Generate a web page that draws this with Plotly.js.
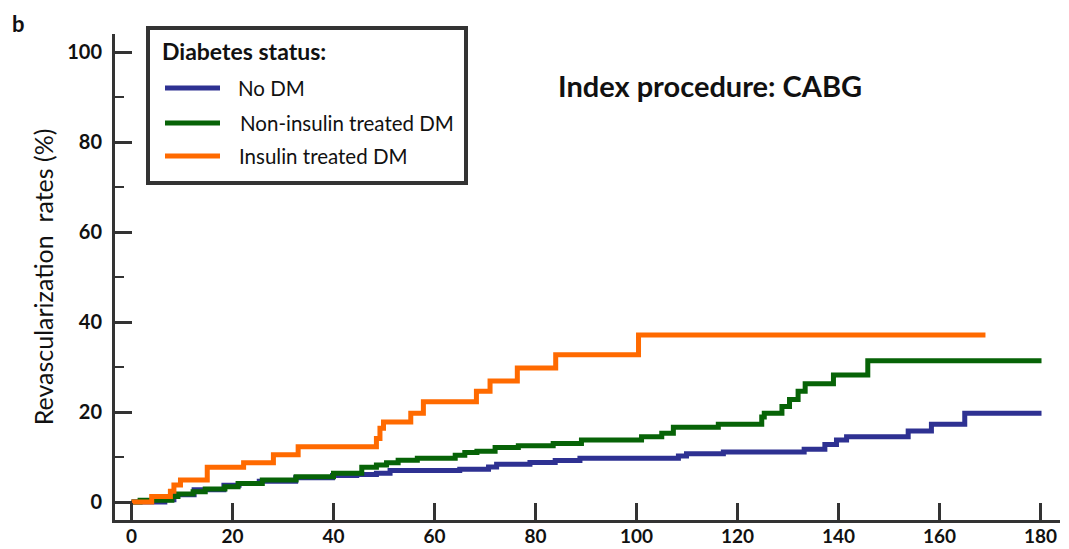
<!DOCTYPE html>
<html>
<head>
<meta charset="utf-8">
<script src="https://cdn.plot.ly/plotly-3.0.1.min.js"></script>
<style>
  html, body { margin: 0; padding: 0; background: #fff; }
  #chart { width: 1069px; height: 549px; }
</style>
</head>
<body>
<div id="chart"></div>
<script>
// ---- Data ----
const seriesNames = ["No DM", "Non-insulin treated DM", "Insulin treated DM"];
const seriesColors = ["#2e3192", "#076307", "#ff6a00"];

const noDmDays = [0, 6.6, 8.4, 12.4, 18.3, 21.3, 25.3, 32.5, 39.8, 44.6, 48.5, 51.2, 65.0, 70.7, 72.3, 78.9, 83.9, 88.8, 108.3, 109.9, 117.2, 133.2, 137.3, 139.6, 141.6, 153.8, 158.4, 165.0, 180.2];
const noDmRate = [0, 0.5, 1.6, 2.7, 3.7, 4.1, 4.6, 5.4, 5.9, 6.1, 6.4, 7.0, 7.3, 7.8, 8.4, 8.8, 9.2, 9.7, 10.2, 10.7, 11.1, 11.7, 12.8, 13.8, 14.5, 15.8, 17.3, 19.7, 19.7];

const nonInsDays = [0, 1.7, 8.0, 9.2, 12.2, 14.6, 18.5, 21.1, 25.9, 32.6, 40.0, 45.6, 48.5, 50.5, 52.8, 56.6, 64.1, 66.0, 68.4, 72.0, 76.6, 83.5, 89.1, 101.0, 105.0, 107.3, 116.2, 124.8, 125.3, 128.8, 130.3, 132.0, 133.4, 139.0, 145.8, 180.2];
const nonInsRate = [0, 0.4, 1.2, 1.8, 2.3, 2.9, 3.4, 4.1, 4.9, 5.6, 6.4, 7.7, 8.2, 8.7, 9.3, 9.7, 10.4, 11.0, 11.3, 12.1, 12.5, 13.0, 13.8, 14.5, 15.3, 16.6, 17.3, 18.9, 19.7, 21.2, 22.8, 24.6, 26.3, 28.2, 31.4, 31.4];

const insDays = [0, 4.0, 7.7, 8.4, 9.7, 15.0, 22.2, 28.1, 33.0, 48.5, 49.2, 49.9, 55.3, 57.8, 68.3, 71.0, 76.4, 84.0, 100.4, 169.1];
const insRate = [0, 1.2, 2.4, 3.8, 4.9, 7.7, 8.7, 10.5, 12.3, 14.1, 16.4, 17.8, 19.7, 22.3, 24.6, 26.9, 29.8, 32.7, 37.1, 37.1];

const xTicks = [0, 20, 40, 60, 80, 100, 120, 140, 160, 180];
const yTicks = [0, 20, 40, 60, 80, 100];

const chartTitle = "Index procedure: CABG";
const legendTitle = "Diabetes status:";
const yTitle = "Revascularization&nbsp;&nbsp;rates (%)";
const panelLabel = "b";

// ---- Layout helpers ----
const W = 1069, H = 549;
const L = 115, R = 1060, T = 34, B = 520;
const px = v => (v - L) / (R - L);
const py = v => (B - v) / (B - T);
const FONT = "Lato, 'Open Sans', sans-serif";
const AXC = "#333333";

const xs = [noDmDays, nonInsDays, insDays];
const ys = [noDmRate, nonInsRate, insRate];

const traces = xs.map((x, i) => ({
  x: x, y: ys[i], type: "scatter", mode: "lines",
  line: { shape: "hv", color: seriesColors[i], width: 5 },
  name: seriesNames[i], hoverinfo: "skip", showlegend: false
}));

// manual legend built from series names/colors
const legendRows = [88, 123, 156];
const legendTextX = [236, 238, 237];
const shapes = [
  { type: "rect", xref: "paper", yref: "paper",
    x0: px(148), x1: px(466), y0: py(183), y1: py(28),
    line: { color: AXC, width: 4 }, fillcolor: "rgba(0,0,0,0)" }
];
const annotations = [
  { text: legendTitle, xref: "paper", yref: "paper", x: px(160), y: py(51),
    xanchor: "left", yanchor: "middle", showarrow: false,
    font: { family: FONT, size: 23, color: "#111", weight: "bold" } },
  { text: chartTitle, xref: "paper", yref: "paper", x: px(710), y: py(85),
    xanchor: "center", yanchor: "middle", showarrow: false,
    font: { family: FONT, size: 29, color: "#111", weight: "bold" } },
  { text: panelLabel, xref: "paper", yref: "paper", x: px(10), y: py(24),
    xanchor: "left", yanchor: "middle", showarrow: false,
    font: { family: FONT, size: 22, color: "#111", weight: "bold" } }
];
seriesNames.forEach((n, i) => {
  shapes.push({ type: "line", xref: "paper", yref: "paper",
    x0: px(165), x1: px(220), y0: py(legendRows[i]), y1: py(legendRows[i]),
    line: { color: seriesColors[i], width: 5 } });
  annotations.push({ text: n, xref: "paper", yref: "paper",
    x: px(legendTextX[i]), y: py(legendRows[i]), xanchor: "left", yanchor: "middle",
    showarrow: false, font: { family: FONT, size: 20.5, color: "#111" } });
});

const layout = {
  width: W, height: H,
  margin: { l: L, r: W - R, t: T, b: H - B, pad: 0 },
  paper_bgcolor: "#fff", plot_bgcolor: "#fff",
  showlegend: false,
  xaxis: {
    range: [(L - 131.5) / 5.05, (R - 131.5) / 5.05],
    tickvals: xTicks, ticktext: xTicks.map(String),
    ticks: "inside", ticklen: 17, tickwidth: 3, tickcolor: AXC,
    showline: true, linewidth: 3, linecolor: AXC,
    showgrid: false, zeroline: false,
    ticklabelstandoff: -3,
    tickfont: { family: FONT, size: 19, color: "#111", weight: "bold" },
    fixedrange: true
  },
  yaxis: {
    range: [(502 - B) / 4.5, (502 - T) / 4.5],
    tickvals: yTicks, ticktext: yTicks.map(String),
    ticks: "inside", ticklen: 17, tickwidth: 3, tickcolor: AXC,
    minor: { dtick: 10, tick0: 0, ticks: "inside", ticklen: 9, tickwidth: 2, tickcolor: AXC },
    showline: true, linewidth: 3, linecolor: AXC,
    showgrid: false, zeroline: false,
    ticklabelstandoff: 6,
    tickfont: { family: FONT, size: 20, color: "#111", weight: "bold" },
    title: { text: yTitle, font: { family: FONT, size: 25, color: "#111" }, standoff: 7 },
    fixedrange: true
  },
  shapes: shapes,
  annotations: annotations
};

Plotly.newPlot("chart", traces, layout, { displayModeBar: false, staticPlot: true });
</script>
</body>
</html>
